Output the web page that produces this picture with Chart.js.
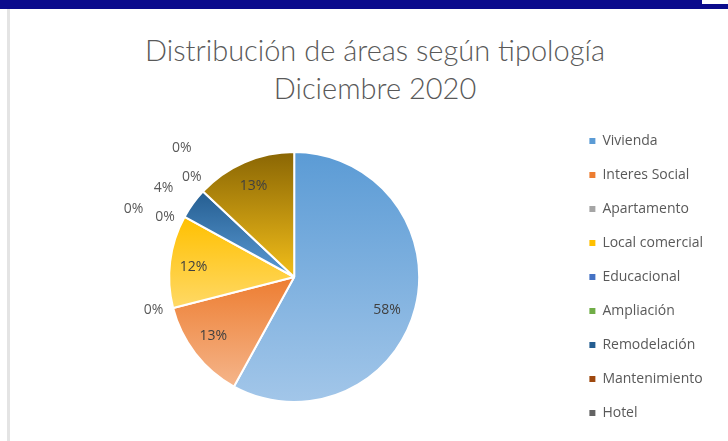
<!DOCTYPE html>
<html lang="es">
<head>
  <meta charset="UTF-8">
  <title>Distribución de áreas según tipología</title>
  <script src="https://cdn.jsdelivr.net/npm/chart.js"></script>
  <style>
    html, body { margin: 0; padding: 0; background: #fff; }
    .marco { position: relative; width: 728px; height: 441px; overflow: hidden; font-family: Lato, sans-serif; }
    .barra { position: absolute; left: 0; top: 0; width: 728px; height: 9px; background: #0b0b8c; }
    .pestana { position: absolute; right: 0; top: 0; width: 26px; height: 4px; background: #fff; }
    .borde { position: absolute; left: 7px; top: 9px; width: 3px; height: 432px; background: #e4e4e4; }
    .titulo {
      position: absolute; left: 0; top: 31px; width: 750px;
      text-align: center; color: #595959; font-size: 29px; font-weight: 300; line-height: 38px;
    }
    canvas { position: absolute; left: 0; top: 0; }
  </style>
</head>
<body>
  <div class="marco">
    <div class="barra"></div>
    <div class="pestana"></div>
    <div class="borde"></div>
    <div class="titulo">Distribución de áreas según tipología<br>Diciembre 2020</div>
    <canvas id="grafico" width="728" height="441"></canvas>
  </div>
  <script>
    // datos (porcentaje del area)
    const categorias = ['Vivienda', 'Interes Social', 'Apartamento', 'Local comercial', 'Educacional',
                        'Ampliación', 'Remodelación', 'Mantenimiento', 'Hotel', 'Otros'];
    const porcentajes = [58, 13, 0, 12, 0, 0, 4, 0, 0, 13];

    // colores: parte alta y parte baja del degradado de cada porcion
    const colorArriba = ['#5B9BD5', '#ED7D31', '#A5A5A5', '#FFC000', '#4472C4', '#70AD47', '#255E91', '#9E480E', '#636363', '#8A6604'];
    const colorAbajo  = ['#A2C6E9', '#F5B58A', '#D0D0D0', '#FFD966', '#8FAADC', '#A9D18E', '#5B9BD5', '#D37A3E', '#A0A0A0', '#F2BE1A'];

    // ubicacion de las etiquetas: radio relativo y giro en grados
    const labelRadio = [0.79, 0.8, 1.157, 0.81, 1.395, 1.139, 1.267, 1.142, 1.367, 0.8];
    const labelGiro  = [5.4, 1.7, 1.1, -1.4, -5.9, -3.8, -1.6, 1, 5.7, -0.6];

    const RADIO = 125;
    const total = porcentajes.reduce((a, b) => a + b, 0);

    function degradado(context) {
      const i = context.dataIndex;
      const area = context.chart.chartArea;
      if (i === undefined) return colorArriba[0];
      if (!area) return colorArriba[i];
      const cx = (area.left + area.right) / 2;
      const cy = (area.top + area.bottom) / 2;
      let acum = 0;
      for (let k = 0; k < i; k++) acum += porcentajes[k];
      const ini = acum / total * 2 * Math.PI - Math.PI / 2;
      const fin = ini + porcentajes[i] / total * 2 * Math.PI;
      let ymin = cy, ymax = cy;
      for (let k = 0; k <= 40; k++) {
        const y = cy + RADIO * Math.sin(ini + (fin - ini) * k / 40);
        ymin = Math.min(ymin, y);
        ymax = Math.max(ymax, y);
      }
      if (ymax - ymin < 1) ymax = ymin + 1;
      const g = context.chart.ctx.createLinearGradient(0, ymin, 0, ymax);
      g.addColorStop(0, colorArriba[i]);
      g.addColorStop(1, colorAbajo[i]);
      return g;
    }

    const etiquetas = {
      id: 'etiquetas',
      afterDatasetsDraw(chart) {
        const ctx = chart.ctx;
        const meta = chart.getDatasetMeta(0);
        ctx.save();
        ctx.font = '14px "Open Sans"';
        ctx.textAlign = 'center';
        ctx.textBaseline = 'middle';
        meta.data.forEach((arc, i) => {
          const p = arc.getProps(['x', 'y', 'startAngle', 'endAngle', 'outerRadius'], true);
          const a = (p.startAngle + p.endAngle) / 2 + labelGiro[i] * Math.PI / 180;
          const r = p.outerRadius * labelRadio[i];
          ctx.fillStyle = labelRadio[i] < 1 ? '#404040' : '#595959';
          ctx.fillText(Math.round(porcentajes[i] / total * 100) + '%', p.x + r * Math.cos(a), p.y + r * Math.sin(a));
        });
        ctx.restore();
      }
    };

    new Chart(document.getElementById('grafico'), {
      type: 'pie',
      data: {
        labels: categorias,
        datasets: [{
          data: porcentajes,
          backgroundColor: degradado,
          borderColor: '#ffffff',
          borderWidth: 2,
          radius: RADIO
        }]
      },
      options: {
        responsive: false,
        animation: false,
        layout: { padding: { top: 113, bottom: 0, left: 19, right: 15 } },
        plugins: {
          tooltip: { enabled: false },
          legend: {
            position: 'right',
            labels: {
              boxWidth: 6,
              boxHeight: 6,
              padding: 20,
              color: '#595959',
              font: { family: 'Open Sans', size: 14 },
              filter: (it) => it.index < 9,
              generateLabels(chart) {
                const base = Chart.overrides.pie.plugins.legend.labels.generateLabels(chart);
                return base.map((it, i) => Object.assign(it, {
                  fillStyle: colorArriba[i], strokeStyle: colorArriba[i], lineWidth: 0
                }));
              }
            }
          }
        }
      },
      plugins: [etiquetas]
    });
  </script>
</body>
</html>
